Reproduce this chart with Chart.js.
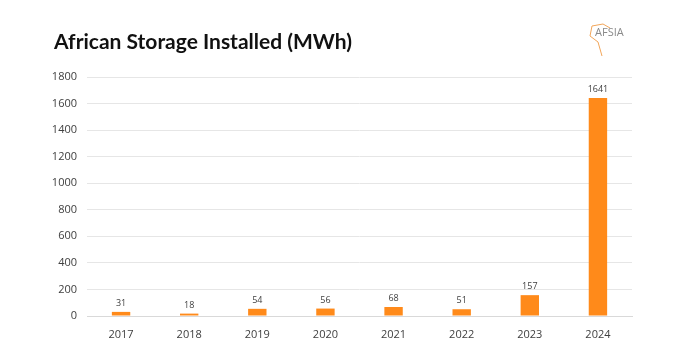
<!DOCTYPE html>
<html>
<head>
<meta charset="utf-8">
<script src="https://cdn.jsdelivr.net/npm/chart.js@4"></script>
<style>
  html, body { margin: 0; padding: 0; background: #ffffff; }
  #wrap { width: 696px; height: 364px; position: relative; }
</style>
</head>
<body>
<div id="wrap"><canvas id="storageChart"></canvas></div>
<script>
const years = ["2017", "2018", "2019", "2020", "2021", "2022", "2023", "2024"];
const installedMWh = [31, 18, 54, 56, 68, 51, 157, 1641];
const yTicks = [0, 200, 400, 600, 800, 1000, 1200, 1400, 1600, 1800];

const titleText = "African Storage Installed (MWh)";

// title, logo and bar value labels
const decorations = {
  id: "decorations",
  afterDatasetsDraw(chart) {
    const c = chart.ctx;
    c.save();
    c.fillStyle = "#111111";
    c.font = "bold 21px Lato, 'Open Sans', sans-serif";
    c.textBaseline = "middle";
    c.textAlign = "left";
    c.fillText(titleText, 54, 42);

    // logo text
    c.fillStyle = "#8a8a8a";
    c.font = "11px 'Open Sans', sans-serif";
    c.fillText("AFSIA", 595, 33);
    c.strokeStyle = "#f2a65a";
    c.lineWidth = 1;
    c.beginPath();
    c.moveTo(592, 26); c.lineTo(603, 24); c.lineTo(610, 28);
    c.moveTo(592, 26); c.lineTo(590, 36); c.lineTo(598, 42); c.lineTo(602, 56);
    c.stroke();

    const meta = chart.getDatasetMeta(0);
    c.fillStyle = "#404040";
    c.font = "9px 'Open Sans', sans-serif";
    c.textAlign = "center";
    c.textBaseline = "bottom";
    meta.data.forEach((bar, i) => {
      c.fillText(String(installedMWh[i]), bar.x, bar.y - 4);
    });
    c.restore();
  },
};

const ctx = document.getElementById("storageChart").getContext("2d");
new Chart(ctx, {
  type: "bar",
  data: {
    labels: years,
    datasets: [
      {
        label: "Installed (MWh)",
        data: installedMWh,
        backgroundColor: "#ff8a1a",
        categoryPercentage: 1.0,
        barPercentage: 0.27,
      },
    ],
  },
  options: {
    responsive: true,
    maintainAspectRatio: false,
    animation: false,
    layout: { padding: { top: 77, right: 64, bottom: 14, left: 0 } },
    plugins: {
      legend: { display: false },
      tooltip: { enabled: false },
    },
    scales: {
      x: {
        grid: { display: false },
        border: { display: true, color: "#d9d9d9" },
        ticks: {
          color: "#404040",
          font: { family: "'Open Sans', sans-serif", size: 11 },
          padding: 4,
        },
        afterFit: (scale) => { scale.height = 34; },
      },
      y: {
        min: 0,
        max: 1800,
        afterBuildTicks: (scale) => {
          scale.ticks = yTicks.map((v) => ({ value: v }));
        },
        grid: { color: "#e6e6e6", drawTicks: false },
        border: { display: false },
        ticks: {
          color: "#404040",
          font: { family: "'Open Sans', sans-serif", size: 11 },
          padding: 10,
          callback: (value) => String(value),
        },
        afterFit: (scale) => { scale.width = 87; },
      },
    },
  },
  plugins: [decorations],
});
</script>
</body>
</html>
